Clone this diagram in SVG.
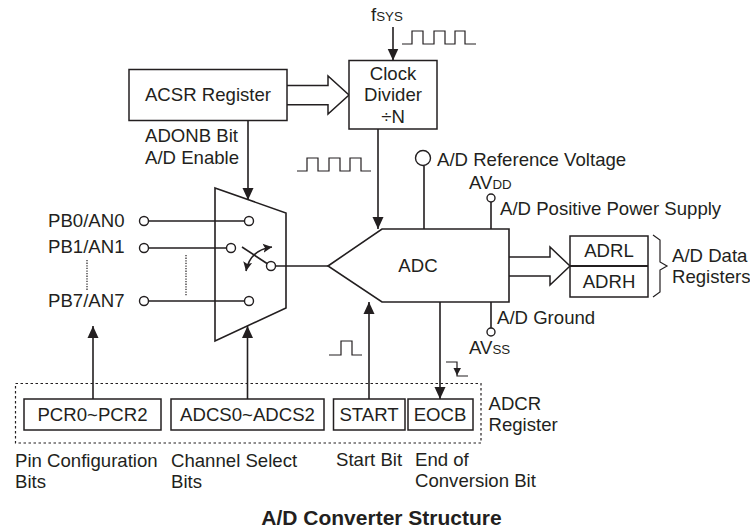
<svg xmlns="http://www.w3.org/2000/svg" width="750" height="529" viewBox="0 0 750 529">
<style>
text{font-family:"Liberation Sans",Arial,sans-serif;font-size:18.6px;fill:#231f20}
.m{text-anchor:middle}
.s{font-size:13.3px}
.b{fill:#fff;stroke:#231f20;stroke-width:1.5}
.l{fill:none;stroke:#231f20;stroke-width:1.6}
.t{fill:none;stroke:#231f20;stroke-width:1.2}
.c{fill:#fff;stroke:#231f20;stroke-width:1.4}
.d{fill:none;stroke:#231f20;stroke-width:1.2;stroke-dasharray:1.3 1.3}
</style>
<defs>
<marker id="a" markerUnits="userSpaceOnUse" markerWidth="12" markerHeight="12" refX="12" refY="6" orient="auto"><path d="M0 .5L12 6L0 11.500Z" fill="#231f20"/></marker>
<marker id="h" markerUnits="userSpaceOnUse" markerWidth="10" markerHeight="10" refX="9" refY="5" orient="auto-start-reverse"><path d="M0 .5L9 5L0 9.500L2 5Z" fill="#231f20"/></marker>
</defs>
<g id="connectors">
<path class="l" d="M393 27V60.500" marker-end="url(#a)"/>
<path class="l" d="M248 120.500V200" marker-end="url(#a)"/>
<path class="l" d="M378 129V229" marker-end="url(#a)"/>
<path class="l" d="M93 399V326" marker-end="url(#a)"/>
<path class="l" d="M247.500 399V326" marker-end="url(#a)"/>
<path class="l" d="M369 399V302" marker-end="url(#a)"/>
<path class="l" d="M440 302V399" marker-end="url(#a)"/>
<path class="l" d="M424 166V229M491 202V229M491 302V328M276 266H328"/>
<path class="l" d="M149 221H244M149 248H226M149 301H244"/>
<path class="l" d="M242 247L267 263.500"/>
<path class="l" d="M272 247Q250 250 246 271" marker-start="url(#h)" marker-end="url(#h)"/>
<path class="b" d="M287 85.500H328V76L349 95L328 114V104.700H287"/>
<path class="b" d="M509 257H550V247L570 266L550 285V276H509"/>
<path class="t" d="M402 44H412V31H423V44H434V31H445V44H455V31H465V44H476"/>
<path class="t" d="M297 171H307V158H318V171H329V158H340V171H350V158H361V171H371"/>
<path class="t" d="M329 355H341V341H352V355H362"/>
<path class="t" d="M446 362H457V376H468"/>
<path d="M453.500 368H461L457 375.500Z" fill="#231f20"/>
<path class="d" d="M87 260V291M186 255V296"/>
</g>
<g id="acsr"><rect class="b" x="129" y="69.500" width="158" height="51"/><text class="m" x="208" y="101">ACSR Register</text><text x="145" y="142">ADONB Bit</text><text x="145" y="164">A/D Enable</text></g>
<g id="fsys"><text x="371" y="21">f<tspan class="s">SYS</tspan></text></g>
<g id="divider"><rect class="b" x="349" y="60.500" width="88" height="68.500"/><text class="m" x="393" y="80">Clock</text><text class="m" x="393" y="101">Divider</text><text class="m" x="393" y="123">÷N</text></g>
<g id="mux"><path class="l" d="M215 188L286 213V308L215 341Z"/></g>
<g id="pins"><text x="48" y="227">PB0/AN0</text><text x="48" y="253">PB1/AN1</text><text x="48" y="307">PB7/AN7</text>
<circle class="c" cx="144" cy="221" r="4.500"/><circle class="c" cx="144" cy="248" r="4.500"/><circle class="c" cx="144" cy="301" r="4.500"/>
<circle class="c" cx="249" cy="221" r="4.500"/><circle class="c" cx="231" cy="248" r="4.500"/><circle class="c" cx="249" cy="301" r="4.500"/><circle class="c" cx="271" cy="266" r="4.500"/></g>
<g id="adc"><path class="l" d="M328 266L382 229H509V302H382Z"/><text class="m" x="418" y="272">ADC</text></g>
<g id="vref"><circle class="c" cx="423" cy="158" r="7.500"/><text x="437" y="166">A/D Reference Voltage</text></g>
<g id="avdd"><circle class="c" cx="491" cy="198" r="4"/><text x="469" y="189">AV<tspan class="s">DD</tspan></text><text x="500" y="215">A/D Positive Power Supply</text></g>
<g id="avss"><circle class="c" cx="491" cy="332" r="4"/><text x="497" y="324">A/D Ground</text><text x="469" y="354">AV<tspan class="s">SS</tspan></text></g>
<g id="adr"><rect class="b" x="570" y="236" width="78" height="61"/><path fill="none" stroke="#231f20" stroke-width="2" d="M570 266H648"/><text class="m" x="609" y="257">ADRL</text><text class="m" x="609" y="288">ADRH</text>
<path class="t" d="M653 235L660 240V262L667 266L660 270V292L653 297"/><text x="672" y="262">A/D Data</text><text x="672" y="283">Registers</text></g>
<g id="adcr"><rect x="15.500" y="383.500" width="465.500" height="59.500" fill="none" stroke="#231f20" stroke-width="1.2" stroke-dasharray="2.500 2.500"/>
<text x="488.500" y="410">ADCR</text><text x="488.500" y="431">Register</text></g>
<g id="pcr"><rect class="b" x="24" y="399" width="137" height="31"/><text class="m" x="92.500" y="421">PCR0~PCR2</text><text x="15" y="467">Pin Configuration</text><text x="15" y="488">Bits</text></g>
<g id="adcs"><rect class="b" x="171" y="399" width="153" height="31"/><text class="m" x="247.500" y="421">ADCS0~ADCS2</text><text x="171" y="467">Channel Select</text><text x="171" y="488">Bits</text></g>
<g id="start"><rect class="b" x="333.500" y="399" width="71.500" height="31"/><text class="m" x="369" y="421">START</text><text x="336" y="466">Start Bit</text></g>
<g id="eocb"><rect class="b" x="408" y="399" width="65" height="31"/><text class="m" x="440" y="421">EOCB</text><text x="415" y="466">End of</text><text x="415" y="487">Conversion Bit</text></g>
<text id="title" class="m" x="381.500" y="525" font-weight="bold" style="font-size:21px">A/D Converter Structure</text>
</svg>
